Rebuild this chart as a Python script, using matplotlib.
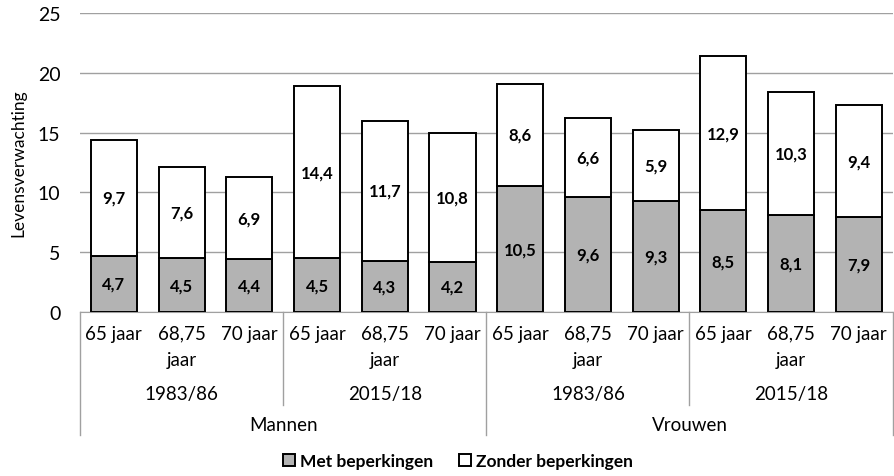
import numpy as np
import matplotlib.pyplot as plt
import matplotlib.transforms as mtransforms

plt.rcParams['font.family'] = ['Lato', 'DejaVu Sans']

leeftijden = ["65 jaar", "68,75\njaar", "70 jaar"] * 4
perioden = ["1983/86", "2015/18", "1983/86", "2015/18"]
geslachten = ["Mannen", "Vrouwen"]
met = [4.7, 4.5, 4.4, 4.5, 4.3, 4.2, 10.5, 9.6, 9.3, 8.5, 8.1, 7.9]
zonder = [9.7, 7.6, 6.9, 14.4, 11.7, 10.8, 8.6, 6.6, 5.9, 12.9, 10.3, 9.4]

fig = plt.figure(figsize=(8.94, 4.77), dpi=100)
ax = fig.add_axes([0.0895, 0.3438, 0.909, 0.627])

x = np.arange(len(met))
grijs = '#b3b3b3'
b1 = ax.bar(x, met, width=0.68, color=grijs, edgecolor='black', linewidth=1.4,
            label='Met beperkingen', zorder=3)
b2 = ax.bar(x, zonder, width=0.68, bottom=met, color='white', edgecolor='black',
            linewidth=1.4, label='Zonder beperkingen', zorder=3)

for i in range(len(met)):
    ax.text(x[i], met[i] / 2, f"{met[i]:.1f}".replace('.', ','), ha='center',
            va='center', fontsize=12, fontweight='bold', zorder=4)
    ax.text(x[i], met[i] + zonder[i] / 2, f"{zonder[i]:.1f}".replace('.', ','),
            ha='center', va='center', fontsize=12, fontweight='bold', zorder=4)

ax.set_xlim(-0.5, len(met) - 0.5)
ax.set_ylim(0, 25)
ax.set_yticks(range(0, 26, 5))
ax.yaxis.grid(True, color='#a0a0a0', linewidth=1)
ax.set_axisbelow(True)
for s in ['top', 'right', 'left']:
    ax.spines[s].set_visible(False)
ax.spines['bottom'].set_color('#a0a0a0')
ax.tick_params(axis='y', length=0, labelsize=14, pad=14)
ax.set_xticks(x)
ax.set_xticklabels(leeftijden, fontsize=13.5, linespacing=1.7)
ax.tick_params(axis='x', length=0, pad=9)
ax.set_ylabel("Levensverwachting", fontsize=12.5, labelpad=8)

trans = mtransforms.blended_transform_factory(ax.transData, ax.transAxes)
for g in range(4):
    ax.text(3 * g + 1, -0.274, perioden[g], ha='center', va='center',
            fontsize=13.5, transform=trans)
for g in range(2):
    ax.text(6 * g + 2.5, -0.375, geslachten[g], ha='center', va='center',
            fontsize=13.5, transform=trans)

lijn = dict(color='#a0a0a0', linewidth=1, transform=trans, clip_on=False)
for pos in [2.5, 8.5]:
    ax.plot([pos, pos], [0, -0.31], **lijn)
for pos in [-0.5, 5.5, 11.5]:
    ax.plot([pos, pos], [0, -0.41], **lijn)

ax.legend(loc='upper center', bbox_to_anchor=(0.465, -0.425), ncol=2, frameon=False,
          prop={'size': 12.5, 'weight': 'bold'}, handlelength=0.7, handleheight=0.7,
          handletextpad=0.3, columnspacing=1.5, borderpad=0.3)

fig.savefig('out.png', dpi=100)
